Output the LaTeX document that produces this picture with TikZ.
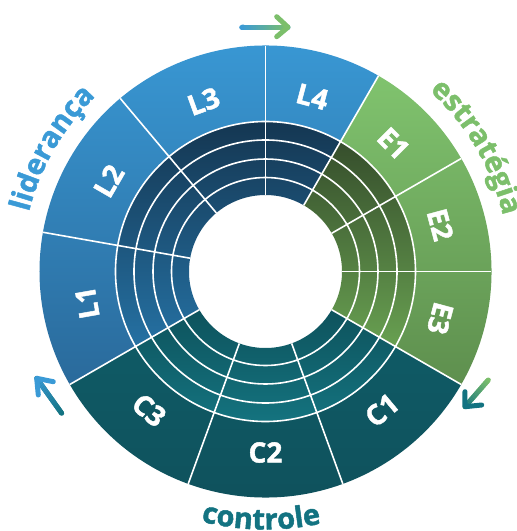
\documentclass[tikz,border=0pt]{standalone}
\usepackage{fontspec}
\setmainfont{Open Sans}
\newfontfamily\heavyfont{Open Sans}[BoldFeatures={FakeBold=1.6}]
\usetikzlibrary{decorations.text,calc}
\definecolor{Lc}{HTML}{3A9AD6}
\definecolor{Ec}{HTML}{7CBF6B}
\definecolor{Cc}{HTML}{137381}
\definecolor{LoT}{HTML}{3A9BD8}
\definecolor{LoB}{HTML}{2A6A9B}
\definecolor{EoT}{HTML}{80C36E}
\definecolor{EoB}{HTML}{5E8F4E}
\definecolor{CoT}{HTML}{0F5A65}
\definecolor{CoB}{HTML}{0F505B}
\definecolor{LiT}{HTML}{13314A}
\definecolor{LiB}{HTML}{2571A3}
\definecolor{EiT}{HTML}{364E2C}
\definecolor{EiB}{HTML}{68A051}
\definecolor{CiT}{HTML}{0E535D}
\definecolor{CiB}{HTML}{157985}
\tikzset{
  sep/.style={white, line width=1.6pt},
  seglabel/.style={text=white, font=\heavyfont\bfseries\fontsize{28}{28}\selectfont, inner sep=0pt},
  arrline/.style={line width=5pt, line cap=round, line join=round},
  arrseg/.style={line width=5pt, line cap=butt},
  outertext/.style={decoration={text along path, text align=center,
      text={|\heavyfont\bfseries\fontsize{29}{29}\selectfont|#1}}, postaction={decorate}},
}
\begin{document}
\begin{tikzpicture}[x=1pt,y=1pt]
\useasboundingbox (-265.5,-259.5) rectangle (251.5,271.5);
% outer ring sectors
\path[top color=LoT, bottom color=LoB] (60:226pt) arc[start angle=60, end angle=210, radius=226pt] -- (210:150pt) arc[start angle=210, end angle=60, radius=150pt] -- cycle;
\path[top color=EoT, bottom color=EoB] (-30:226pt) arc[start angle=-30, end angle=60, radius=226pt] -- (60:150pt) arc[start angle=60, end angle=-30, radius=150pt] -- cycle;
\path[top color=CoT, bottom color=CoB] (210:226pt) arc[start angle=210, end angle=330, radius=226pt] -- (330:150pt) arc[start angle=330, end angle=210, radius=150pt] -- cycle;
% inner ring sectors
\path[top color=LiT, bottom color=LiB] (60:150pt) arc[start angle=60, end angle=210, radius=150pt] -- (210:76.5pt) arc[start angle=210, end angle=60, radius=76.5pt] -- cycle;
\path[top color=EiT, bottom color=EiB] (-30:150pt) arc[start angle=-30, end angle=60, radius=150pt] -- (60:76.5pt) arc[start angle=60, end angle=-30, radius=76.5pt] -- cycle;
\path[top color=CiT, bottom color=CiB] (210:150pt) arc[start angle=210, end angle=330, radius=150pt] -- (330:76.5pt) arc[start angle=330, end angle=210, radius=76.5pt] -- cycle;
% separators
\foreach \r in {94,112.5,131.5,150} \draw[sep] (0,0) circle[radius=\r pt];
\foreach \a in {0,30,60,90,130,170,210,250,290,330} \draw[sep] (\a:76.5pt) -- (\a:226pt);
% segment labels
\node[seglabel, rotate=-15] (l4) at (75:181pt) {L4};
\node[seglabel, rotate=20] (l3) at (110:181pt) {L3};
\node[seglabel, rotate=60] (l2) at (150:181pt) {L2};
\node[seglabel, rotate=100] (l1) at (190:181pt) {L1};
\node[seglabel, rotate=-45] (e1) at (45:181pt) {E1};
\node[seglabel, rotate=-75] (e2) at (15:181pt) {E2};
\node[seglabel, rotate=-105] (e3) at (-15:181pt) {E3};
\node[seglabel, rotate=40] (c1) at (-50:181pt) {C1};
\node[seglabel, rotate=0] (c2) at (-90:181pt) {C2};
\node[seglabel, rotate=-40] (c3) at (-130:181pt) {C3};
% curved group labels
\path[outertext=liderança, decoration={text color=Lc}] (190:244pt) arc[start angle=190, end angle=110, radius=244pt];
\path[outertext=estratégia, decoration={text color=Ec}] (70.5:244pt) arc[start angle=70.5, end angle=-9.5, radius=244pt];
\path[outertext=controle, decoration={text color=Cc}] (-131:258pt) arc[start angle=-131, end angle=-51, radius=258pt];
% arrows
\coordinate (tA) at (-23.8,244.3);
\coordinate (tB) at (22.5,244.3);
\coordinate (lA) at (-203.8,-141.8);
\coordinate (lB) at (-228.8,-106.8);
\coordinate (rA) at (222.8,-108.5);
\coordinate (rB) at (199.5,-135.2);
\draw[arrline, Lc] (tA) -- (tB);
\draw[arrline, Cc] (lA) -- (lB);
\draw[arrline, Ec] (rA) -- (rB);
\foreach \i in {0,...,19} {
  \pgfmathsetmacro\ta{\i/20}
  \pgfmathsetmacro\tb{(\i+1)/20}
  \pgfmathsetmacro\pc{100-100*(\i+0.5)/20}
  \draw[arrseg, Lc!\pc!Ec] ($(tA)!\ta!(tB)$) -- ($(tA)!\tb!(tB)$);
  \draw[arrseg, Cc!\pc!Lc] ($(lA)!\ta!(lB)$) -- ($(lA)!\tb!(lB)$);
  \draw[arrseg, Ec!\pc!Cc] ($(rA)!\ta!(rB)$) -- ($(rA)!\tb!(rB)$);
}
\draw[arrline, Ec] (11.2,254.8) -- (tB) -- (11.2,234.8);
\draw[arrline, Lc] (-212.2,-110.2) -- (lB) -- (-227.2,-123.5);
\draw[arrline, Cc] (199.5,-120.2) -- (rB) -- (216.2,-133.5);
\end{tikzpicture}
\end{document}
